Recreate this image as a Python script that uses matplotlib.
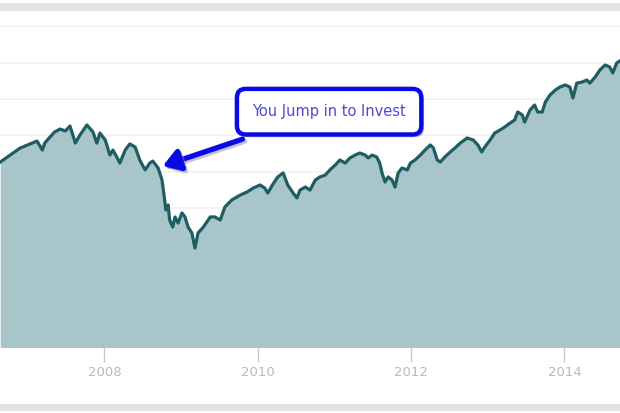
import matplotlib
matplotlib.use("Agg")
import matplotlib.pyplot as plt
from matplotlib.patches import Rectangle
import matplotlib.patheffects as pe

# decimal years and index values
years = [2006.64, 2006.77, 2006.90, 2007.03, 2007.12, 2007.19, 2007.22, 2007.29, 2007.35, 2007.42,
         2007.49, 2007.55, 2007.62, 2007.68, 2007.77, 2007.85, 2007.90, 2007.94, 2008.01, 2008.07,
         2008.11, 2008.16, 2008.20, 2008.27, 2008.33, 2008.40, 2008.46, 2008.53, 2008.59, 2008.63,
         2008.70, 2008.75, 2008.78, 2008.80, 2008.83, 2008.85, 2008.89, 2008.92, 2008.96, 2009.01,
         2009.05, 2009.09, 2009.14, 2009.18, 2009.22, 2009.29, 2009.38, 2009.44, 2009.51, 2009.57,
         2009.66, 2009.77, 2009.86, 2009.94, 2010.03, 2010.09, 2010.13, 2010.19, 2010.26, 2010.33,
         2010.39, 2010.46, 2010.51, 2010.55, 2010.62, 2010.68, 2010.75, 2010.81, 2010.88, 2010.94,
         2011.01, 2011.07, 2011.14, 2011.20, 2011.27, 2011.33, 2011.40, 2011.44, 2011.49, 2011.55,
         2011.59, 2011.62, 2011.66, 2011.70, 2011.75, 2011.79, 2011.83, 2011.88, 2011.95, 2011.99,
         2012.05, 2012.12, 2012.18, 2012.25, 2012.29, 2012.34, 2012.38, 2012.44, 2012.51, 2012.57,
         2012.64, 2012.73, 2012.81, 2012.87, 2012.92, 2012.96, 2013.03, 2013.09, 2013.16, 2013.22,
         2013.29, 2013.35, 2013.39, 2013.45, 2013.48, 2013.55, 2013.61, 2013.65, 2013.71, 2013.75,
         2013.81, 2013.88, 2013.94, 2014.01, 2014.07, 2014.11, 2014.16, 2014.23, 2014.29, 2014.33,
         2014.40, 2014.46, 2014.53, 2014.59, 2014.63, 2014.68, 2014.72]
values = [1318, 1366, 1414, 1442, 1462, 1400, 1448, 1490, 1524, 1544,
          1531, 1565, 1448, 1503, 1572, 1524, 1448, 1517, 1469, 1366,
          1400, 1353, 1311, 1400, 1442, 1421, 1332, 1264, 1311, 1325,
          1277, 1195, 1079, 990, 1024, 921, 873, 942, 900, 969,
          942, 873, 832, 729, 832, 873, 942, 942, 921, 1010,
          1058, 1092, 1113, 1140, 1161, 1140, 1106, 1161, 1216, 1243,
          1161, 1106, 1072, 1126, 1147, 1126, 1195, 1216, 1229, 1264,
          1298, 1332, 1311, 1346, 1366, 1380, 1366, 1346, 1366, 1353,
          1311, 1243, 1181, 1216, 1195, 1147, 1243, 1277, 1264, 1311,
          1332, 1366, 1400, 1435, 1414, 1332, 1318, 1353, 1387, 1414,
          1448, 1483, 1469, 1435, 1387, 1421, 1469, 1517, 1538, 1558,
          1585, 1606, 1661, 1640, 1592, 1674, 1709, 1661, 1661, 1729,
          1777, 1811, 1832, 1846, 1832, 1757, 1859, 1866, 1880, 1859,
          1900, 1948, 1983, 1969, 1928, 1996, 2010]

tick_years = [2008, 2010, 2012, 2014]
tick_labels = ["2008", "2010", "2012", "2014"]
grid_values = [250, 500, 750, 1000, 1250, 1500, 1750, 2000, 2250]

annotation_text = "You Jump in to Invest"
arrow_tip = (2008.76, 1291)
arrow_tail = (2009.80, 1475)
box_center = (2010.93, 1663)

LINE = "#1e5d62"
FILL = "#a8c5c9"

fig = plt.figure(figsize=(6.2, 4.13), dpi=100)
fig.patch.set_facecolor("white")

# frame bands
fig.patches.append(Rectangle((0, 1 - 11 / 413), 1, 8 / 413, transform=fig.transFigure,
                             facecolor="#e2e2e2", edgecolor="none", zorder=0))
fig.patches.append(Rectangle((0, 2 / 413), 1, 7 / 413, transform=fig.transFigure,
                             facecolor="#e2e2e2", edgecolor="none", zorder=0))

ax = fig.add_axes([0, 66 / 413, 1, 335 / 413])
ax.set_facecolor("white")
ax.set_xlim(2006.637, 2014.724)
ax.set_ylim(51, 2346)

for g in grid_values:
    ax.axhline(g, color="#f2f2f2", lw=1.2, zorder=0)

ax.fill_between(years, values, 0, color=FILL, lw=0, zorder=1)
ax.plot(years, values, color=LINE, lw=2.3, solid_joinstyle="round", zorder=2)

for s in ax.spines.values():
    s.set_visible(False)
ax.set_yticks([])
ax.set_xticks(tick_years)
ax.set_xticklabels(tick_labels)
ax.tick_params(axis="x", direction="out", length=11, width=1, color="#c8c8c8",
               labelcolor="#b8b8b8", labelsize=9.5, pad=3)

# annotation arrow
ax.annotate("", xy=arrow_tip, xytext=arrow_tail,
            arrowprops=dict(arrowstyle="-|>,head_length=1.0,head_width=0.65",
                            color="#0a0ae6", lw=3.8, shrinkA=0, shrinkB=0,
                            path_effects=[pe.SimpleLineShadow(offset=(1.5, -1.5), shadow_color="#8888aa", alpha=0.5),
                                          pe.Normal()]),
            zorder=5)

t = ax.text(box_center[0], box_center[1], annotation_text, ha="center", va="center",
            fontsize=10.5, color="#4a4ad6", zorder=6,
            bbox=dict(boxstyle="round,pad=1.05,rounding_size=0.6", facecolor="white",
                      edgecolor="#0a0ae6", linewidth=3.2))
t.get_bbox_patch().set_path_effects([pe.SimplePatchShadow(offset=(2, -2), shadow_rgbFace="#777777", alpha=0.5),
                                     pe.Normal()])

fig.savefig("out.png", dpi=100, facecolor="white")
